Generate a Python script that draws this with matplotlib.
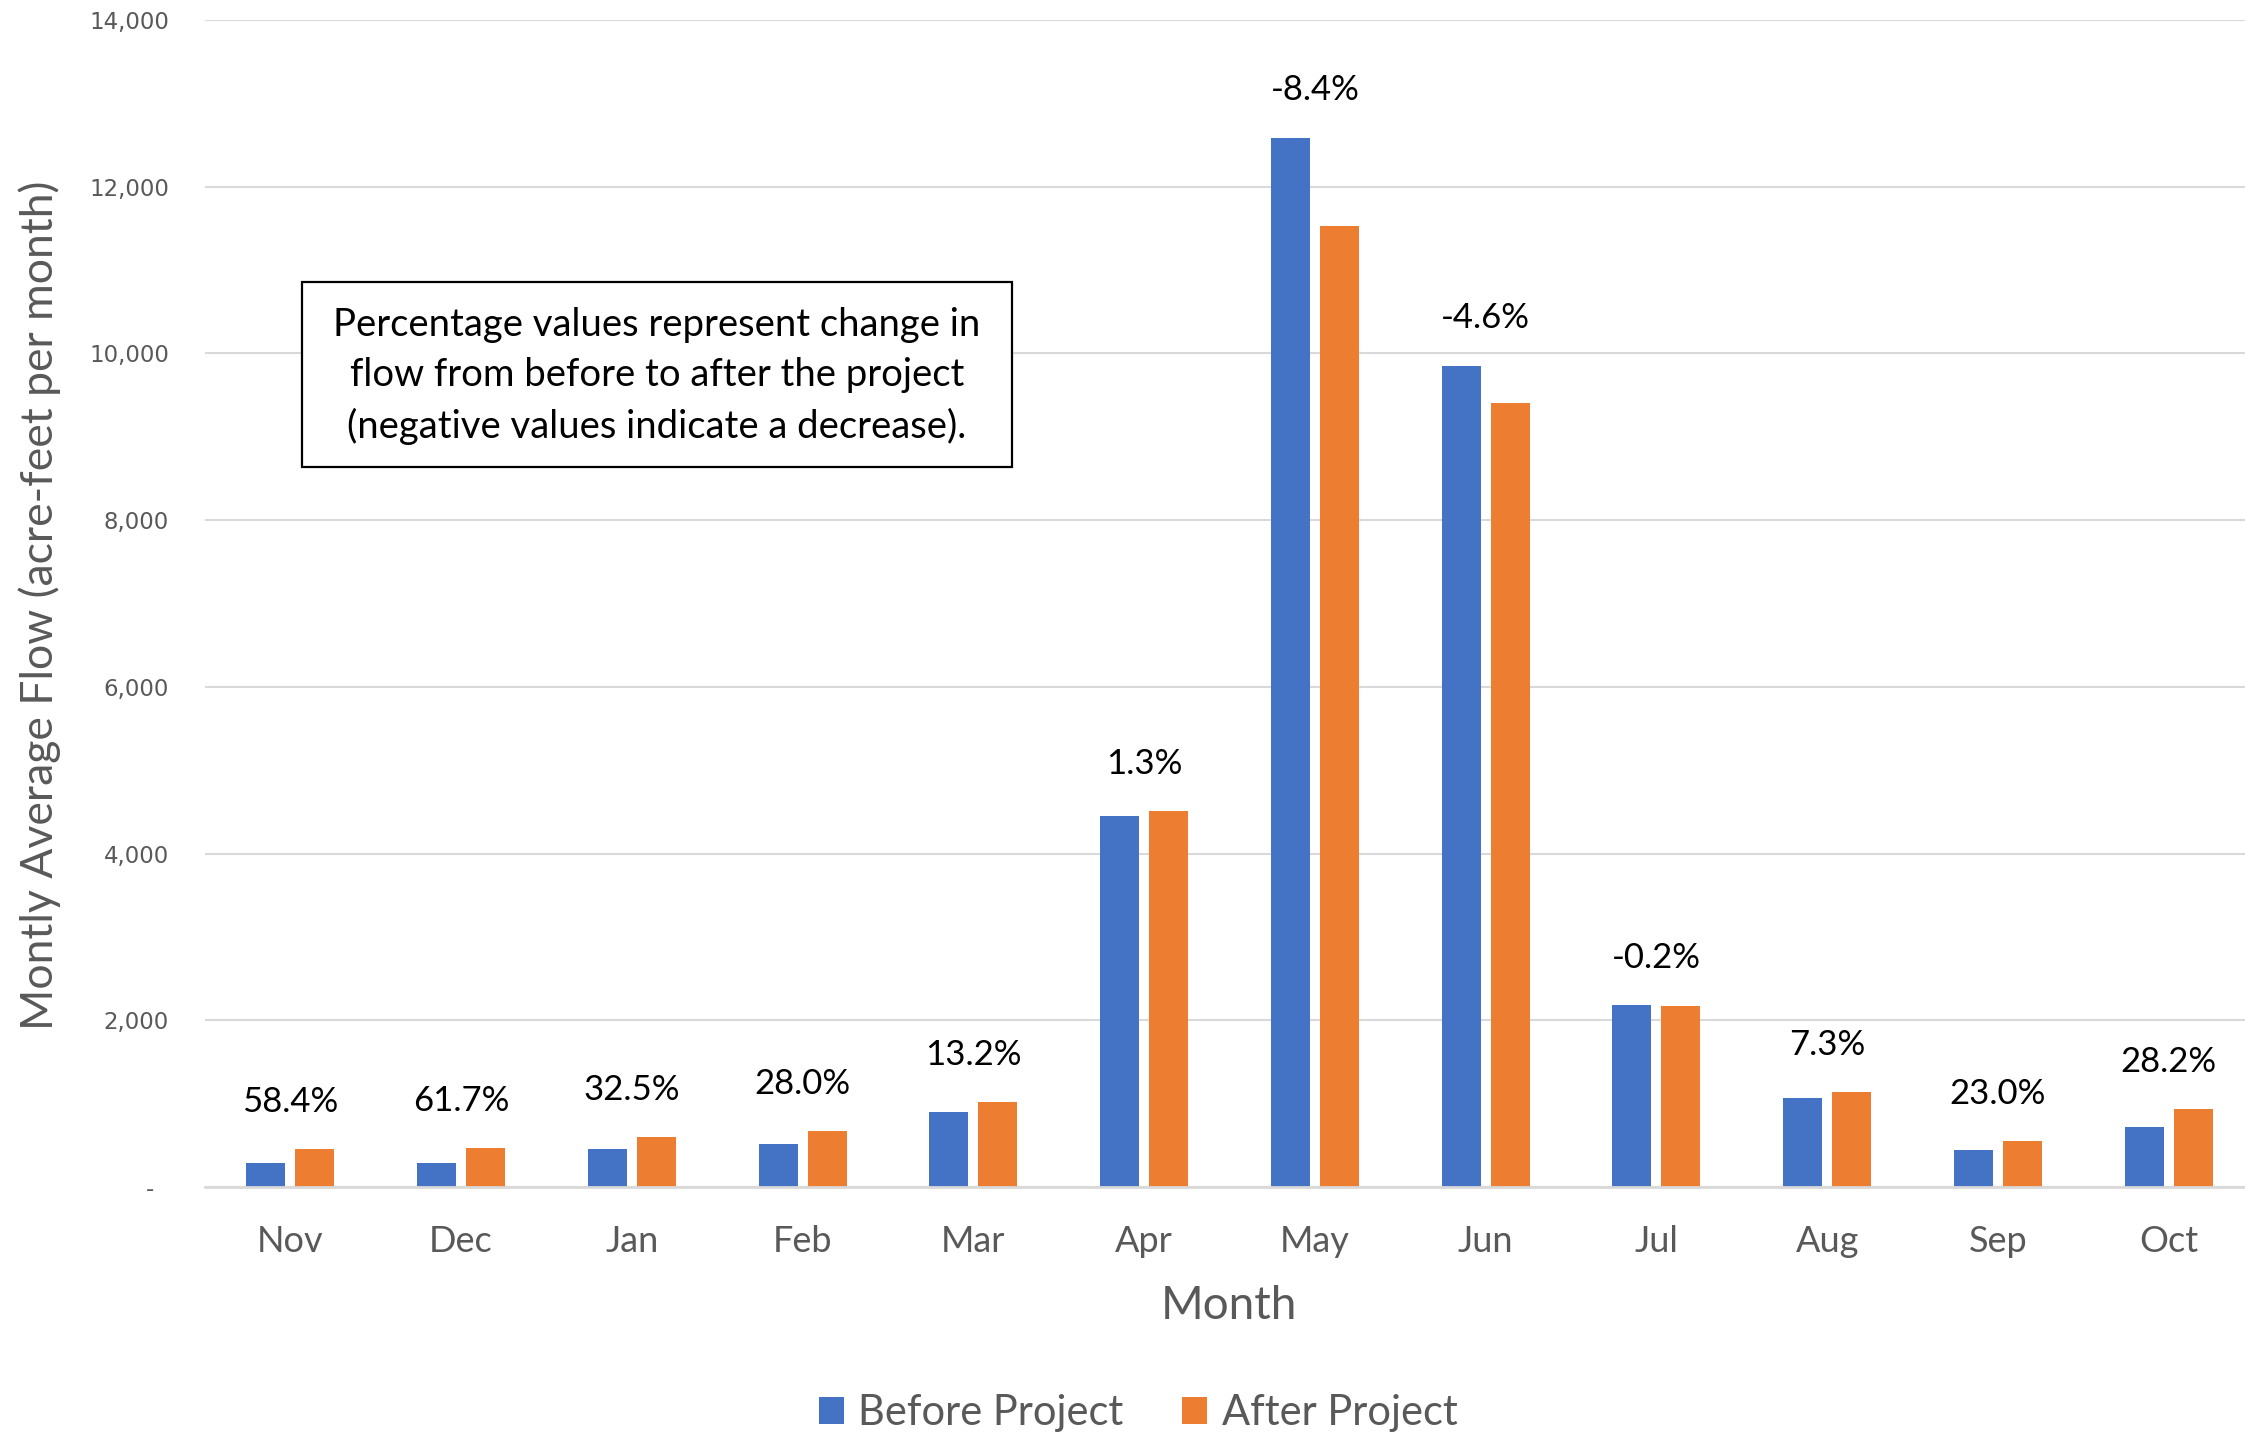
import matplotlib
matplotlib.use("Agg")
import matplotlib.pyplot as plt
from matplotlib.patches import Rectangle, Patch
import numpy as np

# Monthly average flow (acre-feet per month), water year order
months = ["Nov", "Dec", "Jan", "Feb", "Mar", "Apr", "May", "Jun", "Jul", "Aug", "Sep", "Oct"]
before_project = [290, 287, 452, 520, 900, 4450, 12590, 9855, 2180, 1064, 444, 725]
after_project = [459, 464, 600, 666, 1016, 4510, 11530, 9404, 2176, 1142, 546, 930]
pct_change = ["58.4%", "61.7%", "32.5%", "28.0%", "13.2%", "1.3%", "-8.4%", "-4.6%",
              "-0.2%", "7.3%", "23.0%", "28.2%"]
y_ticks = [0, 2000, 4000, 6000, 8000, 10000, 12000, 14000]
y_tick_labels = ["-  ", "2,000", "4,000", "6,000", "8,000", "10,000", "12,000", "14,000"]

BLUE = "#4472C4"
ORANGE = "#ED7D31"
GREY_TEXT = "#595959"
GRID = "#D9D9D9"
FONT = ["Lato", "DejaVu Sans"]

W, H = 2245, 1437
fig = plt.figure(figsize=(W / 100, H / 100), dpi=100)
fig.patch.set_facecolor("white")

ax_left, ax_right, ax_top, ax_bottom = 205, 2254, 20, 1187
ax = fig.add_axes([ax_left / W, 1 - ax_bottom / H, (ax_right - ax_left) / W, (ax_bottom - ax_top) / H])

x = np.arange(len(months))
bw = 0.228
off = 0.143
ax.bar(x - off, before_project, width=bw, color=BLUE, zorder=3)
ax.bar(x + off, after_project, width=bw, color=ORANGE, zorder=3)

ax.set_xlim(-0.5, len(months) - 0.5)
ax.set_ylim(0, 14000)

ax.set_yticks(y_ticks)
ax.set_yticklabels(y_tick_labels, family="DejaVu Sans", fontsize=16.5, color=GREY_TEXT)
ax.set_xticks(x)
ax.set_xticklabels(months, family=FONT, fontsize=26, color=GREY_TEXT)
ax.tick_params(axis="y", length=0, pad=26)
ax.tick_params(axis="x", length=0, pad=27)

ax.grid(axis="y", color=GRID, linewidth=1.5, zorder=0)
for side in ["top", "right", "left"]:
    ax.spines[side].set_visible(False)
ax.spines["bottom"].set_color(GRID)
ax.spines["bottom"].set_linewidth(2.0)
ax.spines["bottom"].set_zorder(4)

# Percentage-change labels above each month pair
for i, lab in enumerate(pct_change):
    top = max(before_project[i], after_project[i])
    ax.annotate(lab, (x[i], top), xytext=(0, 34), textcoords="offset points",
                ha="center", va="center", family=FONT, fontsize=25, color="black")

# Axis titles
fig.text(1229 / W, 1 - 1306 / H, "Month", ha="center", va="center",
         family=FONT, fontsize=33, color=GREY_TEXT)
fig.text(40 / W, 1 - 605 / H, "Montly Average Flow (acre-feet per month)", rotation=90,
         ha="center", va="center", family=FONT, fontsize=32, color=GREY_TEXT)

# Explanatory note box
bx0, by0, bx1, by1 = 302, 282, 1012, 467
fig.patches.append(Rectangle((bx0 / W, 1 - by1 / H), (bx1 - bx0) / W, (by1 - by0) / H,
                             transform=fig.transFigure, facecolor="white",
                             edgecolor="black", linewidth=1.6, zorder=5))
fig.text(657 / W, 1 - 376 / H,
         "Percentage values represent change in\nflow from before to after the project\n(negative values indicate a decrease).",
         ha="center", va="center", family=FONT, fontsize=27.5, color="black",
         linespacing=1.48, zorder=6)

# Legend
handles = [Patch(facecolor=BLUE, edgecolor="none", label="Before Project"),
           Patch(facecolor=ORANGE, edgecolor="none", label="After Project")]
leg = fig.legend(handles=handles, loc="center", bbox_to_anchor=(1138 / W, 1 - 1413 / H),
                 ncol=2, frameon=False, handlelength=0.6, handleheight=0.6,
                 handletextpad=0.35, columnspacing=1.4,
                 prop={"family": FONT, "size": 30})
for t in leg.get_texts():
    t.set_color(GREY_TEXT)

fig.savefig("out.png", dpi=100, facecolor="white")
